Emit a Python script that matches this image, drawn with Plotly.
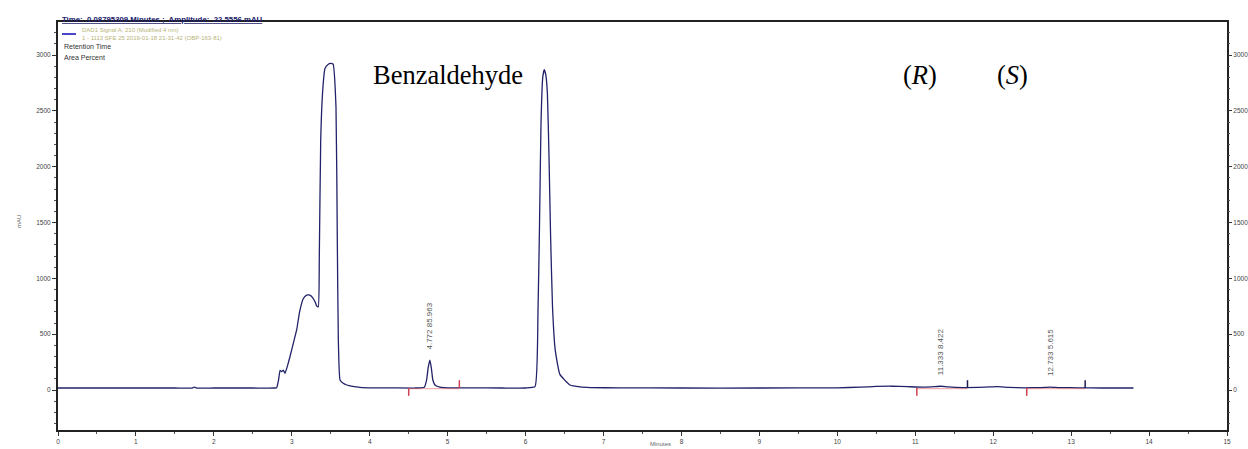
import plotly.graph_objects as go

# Chromatogram trace: retention time (min) vs absorbance (mAU)
time_min = [
    0.00, 0.50, 1.00, 1.50, 1.72, 1.75, 1.78, 2.00, 2.50, 2.78, 2.806, 2.83, 2.849, 2.87, 2.891, 2.913,
    2.95, 2.977, 3.02, 3.063, 3.10, 3.148, 3.19, 3.22, 3.255, 3.298, 3.32, 3.34,
    3.353, 3.371, 3.397, 3.426, 3.468, 3.50, 3.53, 3.567, 3.584, 3.597, 3.619,
    3.66, 3.705, 3.78, 3.875, 4.00, 4.30, 4.60, 4.70, 4.73, 4.75, 4.772, 4.79,
    4.81, 4.84, 4.90, 5.00, 5.30, 5.70, 6.00, 6.121, 6.159, 6.179, 6.198, 6.22,
    6.24, 6.26, 6.28, 6.30, 6.32, 6.345, 6.38, 6.44, 6.57, 6.70, 6.83, 7.20,
    8.00, 9.00, 10.00, 10.30, 10.50, 10.70, 10.90, 11.10, 11.25, 11.33, 11.42,
    11.60, 11.90, 12.05, 12.20, 12.40, 12.60, 12.73, 12.85, 13.10, 13.40, 13.80,
]
absorbance_mau = [
    18, 18, 18, 18, 18, 26, 18, 18, 18, 18, 20, 90, 175, 165, 178, 150,
    230, 300, 420, 540, 700, 820, 850, 852, 838, 790, 752, 745,
    1193, 2238, 2686, 2880, 2918, 2925, 2918, 2535, 1340, 450, 90,
    60, 45, 33, 24, 20, 19, 18, 24, 90, 200, 268, 200,
    90, 42, 25, 20, 19, 18, 18, 30, 700, 1500, 2400, 2800,
    2870, 2820, 2650, 2100, 1400, 750, 360, 140, 45, 28, 22, 19,
    18, 18, 20, 26, 32, 34, 30, 26, 30, 34, 28,
    22, 26, 30, 24, 20, 22, 26, 22, 20, 18, 18,
]

# Integrated peaks: retention time, area percent, integration start/end
peak_rt = [4.772, 11.333, 12.733]
peak_area_pct = [85.963, 8.422, 5.615]
peak_apex_mau = [268, 32, 26]
integ_start = [4.50, 11.02, 12.43]
integ_end = [5.15, 11.67, 13.18]
end_mark_colors = ["#d04050", "#1c1c50", "#1c1c50"]
baseline_mau = 18

# Compound names placed above the peaks
compound_labels = ["Benzaldehyde", "(<i>R</i>)", "(<i>S</i>)"]

y_ticks = [0, 500, 1000, 1500, 2000, 2500, 3000]
x_ticks = list(range(0, 16))

# Plot-area geometry in pixels, used to place page furniture
PL, PR, PT, PB = 58, 1227, 22, 430
W, H = PR - PL, PB - PT


def px(xp):
    return (xp - PL) / W


def py(yp):
    return (PB - yp) / H


fig = go.Figure()
fig.add_trace(go.Scatter(
    x=time_min, y=absorbance_mau, mode="lines",
    line=dict(color="#22226a", width=1.3, shape="spline", smoothing=0.4),
    hoverinfo="skip", showlegend=False,
))
# Same trace on the mirrored right-hand axis (transparent) so it renders
fig.add_trace(go.Scatter(
    x=time_min, y=absorbance_mau, mode="lines", yaxis="y2",
    line=dict(color="rgba(0,0,0,0)", width=0), hoverinfo="skip", showlegend=False,
))

# Integration baselines and start/end event markers
for s, e, c in zip(integ_start, integ_end, end_mark_colors):
    fig.add_shape(type="line", xref="x", yref="y", x0=s, x1=e,
                  y0=baseline_mau - 6, y1=baseline_mau - 6,
                  line=dict(color="rgba(220,80,80,0.55)", width=1))
    fig.add_shape(type="line", xref="x", yref="y", x0=s, x1=s,
                  y0=baseline_mau, y1=baseline_mau - 70,
                  line=dict(color="#d04050", width=1.5))
    fig.add_shape(type="line", xref="x", yref="y", x0=e, x1=e,
                  y0=baseline_mau, y1=baseline_mau + 70,
                  line=dict(color=c, width=1.5))

# Retention time / area percent labels, vertical
for rt, pct, apex in zip(peak_rt, peak_area_pct, peak_apex_mau):
    fig.add_annotation(x=rt, y=apex, xref="x", yref="y",
                       text=f"{rt:.3f} {pct:.3f}", textangle=-90, showarrow=False,
                       xanchor="center", yanchor="bottom", yshift=9,
                       font=dict(family="Liberation Sans, Arial", size=8, color="#555555"))

label_x = [448, 920, 1012]
for txt, xp in zip(compound_labels, label_x):
    fig.add_annotation(x=px(xp), y=py(75), xref="paper", yref="paper",
                       text=txt, showarrow=False, xanchor="center", yanchor="middle",
                       font=dict(family="Liberation Serif, Times New Roman", size=26.5,
                                 color="black"))

small = dict(family="Liberation Sans, Arial", size=7)
fig.add_annotation(x=px(60), y=py(19), xref="paper", yref="paper",
                   text="<u><b>Time:  0.08795309 Minutes ;  Amplitude:  22.5556 mAU</b></u>",
                   showarrow=False, xanchor="left", yanchor="middle",
                   font=dict(small, color="#20206a", size=7.8))
fig.add_shape(type="line", xref="paper", yref="paper",
              x0=px(62), x1=px(76), y0=py(34), y1=py(34),
              line=dict(color="#4848c8", width=2))
fig.add_annotation(x=px(80), y=py(30), xref="paper", yref="paper",
                   text="DAD1 Signal A, 210 (Modified 4 nm)",
                   showarrow=False, xanchor="left", yanchor="middle",
                   font=dict(small, color="#b8b478", size=6))
fig.add_annotation(x=px(80), y=py(38), xref="paper", yref="paper",
                   text="1 - 1113 SFE 25 2019-01-18 21-31-42 (OBP-163-81)",
                   showarrow=False, xanchor="left", yanchor="middle",
                   font=dict(small, color="#b8b478", size=6))
fig.add_annotation(x=px(62), y=py(46), xref="paper", yref="paper",
                   text="Retention Time", showarrow=False,
                   xanchor="left", yanchor="middle",
                   font=dict(small, color="#333333"))
fig.add_annotation(x=px(62), y=py(57), xref="paper", yref="paper",
                   text="Area Percent", showarrow=False,
                   xanchor="left", yanchor="middle",
                   font=dict(small, color="#333333"))
fig.add_annotation(x=px(14), y=py(222), xref="paper", yref="paper",
                   text="mAU", textangle=-90, showarrow=False,
                   font=dict(small, color="#666666", size=6))
fig.add_annotation(x=px(660), y=py(449), xref="paper", yref="paper",
                   text="Minutes", showarrow=False, xanchor="center", yanchor="bottom",
                   font=dict(small, color="#666666", size=6))

axis_common = dict(showgrid=False, zeroline=False, ticks="outside", ticklen=4,
                   automargin=False, tickcolor="#333333",
                   tickfont=dict(family="Liberation Sans, Arial", size=6.5, color="#444444"))
fig.update_layout(
    width=1248, height=449,
    margin=dict(l=PL, r=1248 - PR, t=PT, b=449 - PB, autoexpand=False),
    paper_bgcolor="white", plot_bgcolor="white",
    xaxis=dict(axis_common, range=[0, 15], tickvals=x_ticks, showline=True,
               linecolor="#222222", linewidth=2, mirror=True,
               minor=dict(ticks="outside", ticklen=2, dtick=0.5, tickcolor="#555555")),
    yaxis=dict(axis_common, range=[-358, 3296], tickvals=y_ticks, showline=True,
               linecolor="#222222", linewidth=2, mirror=True,
               minor=dict(ticks="outside", ticklen=2, dtick=100, tickcolor="#555555")),
    yaxis2=dict(axis_common, range=[-358, 3296], tickvals=y_ticks, overlaying="y",
                side="right", showline=False,
                minor=dict(ticks="outside", ticklen=2, dtick=100, tickcolor="#555555")),
)

fig.write_html("out.html")
